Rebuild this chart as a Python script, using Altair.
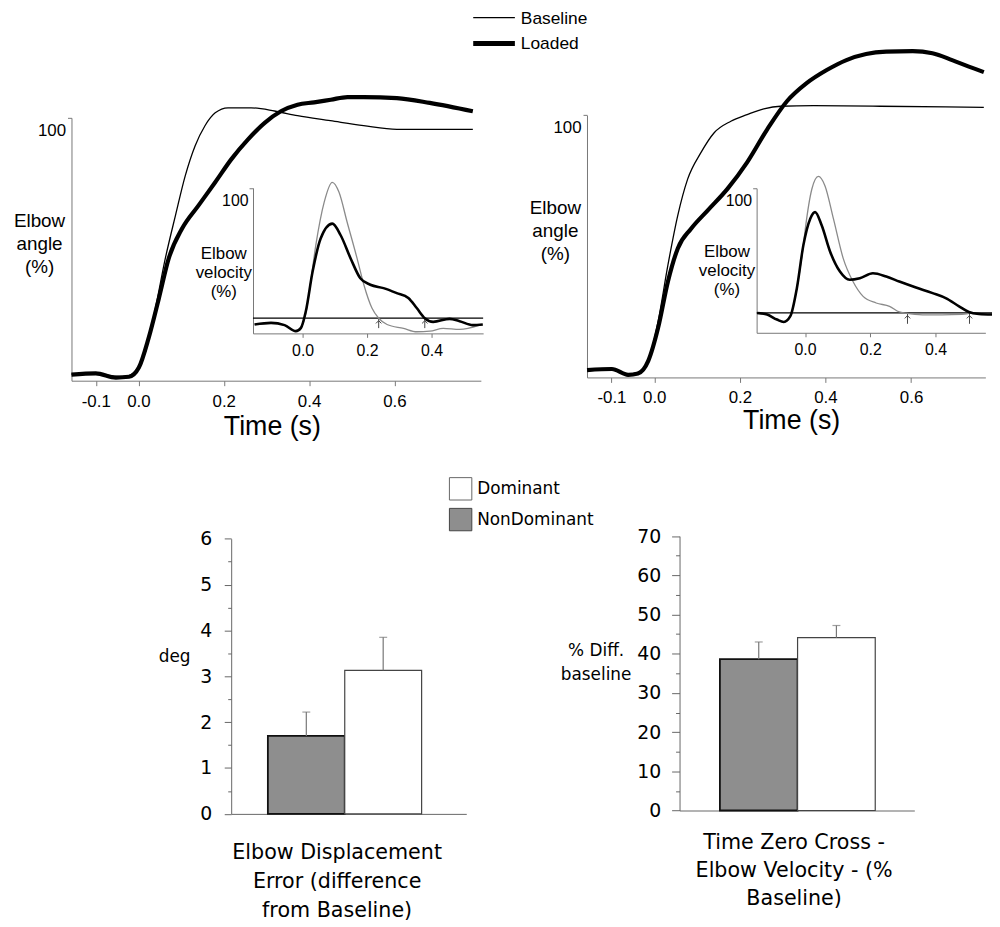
import altair as alt
import pandas as pd

# ---------------- data ----------------
series = ["Baseline", "Loaded"]
groups = ["NonDominant", "Dominant"]

main_ticks = [-0.1, 0.0, 0.2, 0.4, 0.6]
inset_ticks = [0.0, 0.2, 0.4]

# Top-left panel: elbow angle (%) vs time (s)
tl_base_t = [-0.157, -0.105, -0.038, -0.022, -0.0065, 0.017, 0.040, 0.063, 0.087, 0.110, 0.133,
             0.156, 0.180, 0.210, 0.264, 0.319, 0.373, 0.450, 0.528, 0.606, 0.784]
tl_base_v = [2.5, 2.8, 1.5, 1.9, 3.8, 11.3, 27.7, 46.5, 63.0, 78.1, 89.4,
             97.0, 101.9, 103.8, 103.8, 102.6, 100.8, 98.9, 97.0, 95.6, 95.6]
tl_load_t = [-0.157, -0.100, -0.053, -0.022, 0.001, 0.024, 0.048, 0.071, 0.102, 0.141, 0.180, 0.218,
             0.257, 0.296, 0.334, 0.373, 0.412, 0.451, 0.490, 0.528, 0.606, 0.683, 0.784]
tl_load_v = [2.3, 2.8, 1.2, 1.5, 5.0, 16.3, 31.4, 46.5, 57.8, 66.7, 75.5, 84.3,
             91.8, 98.1, 102.5, 105.0, 105.9, 106.9, 107.9, 107.9, 107.5, 105.7, 102.5]

# Top-right panel
tr_base_t = [-0.157, -0.105, -0.061, -0.038, -0.014, 0.009, 0.032, 0.055, 0.078, 0.109, 0.140,
             0.179, 0.217, 0.256, 0.295, 0.372, 0.527, 0.770]
tr_base_v = [3.2, 3.4, 1.3, 1.9, 6.3, 21.4, 42.9, 61.8, 75.6, 85.7, 93.3,
             97.7, 100.2, 102.4, 103.4, 103.6, 103.4, 103.0]
tr_load_t = [-0.157, -0.099, -0.061, -0.038, -0.014, 0.009, 0.032, 0.055, 0.086, 0.125, 0.171, 0.217,
             0.264, 0.310, 0.356, 0.403, 0.449, 0.495, 0.542, 0.604, 0.650, 0.696, 0.735, 0.770]
tr_load_v = [2.8, 3.2, 1.0, 1.5, 6.3, 18.9, 36.6, 49.2, 56.7, 63.7, 71.9, 82.0,
             94.6, 105.3, 112.2, 117.2, 121.0, 123.3, 124.2, 124.4, 123.6, 121.0, 118.5, 116.4]

# Top-left inset: elbow velocity (%)
tli_base_t = [-0.149, -0.098, -0.056, -0.021, -0.005, 0.010, 0.021, 0.041, 0.067, 0.092, 0.113, 0.138,
              0.169, 0.190, 0.215, 0.236, 0.262, 0.313, 0.354, 0.395, 0.436, 0.487, 0.549]
tli_base_v = [-4.8, -3.6, -5.3, -9.9, -7.4, 4.0, 20.6, 56.1, 89.1, 104.3, 96.7, 73.9,
              45.9, 25.7, 7.8, 0.0, -4.8, -7.8, -10.4, -9.9, -7.8, -8.6, -5.3]
tli_load_t = [-0.149, -0.098, -0.056, -0.021, -0.005, 0.010, 0.031, 0.056, 0.092, 0.118, 0.149, 0.179,
              0.210, 0.251, 0.292, 0.328, 0.354, 0.379, 0.405, 0.456, 0.487, 0.528, 0.559]
tli_load_v = [-4.8, -3.6, -5.3, -9.9, -7.4, 5.3, 35.8, 61.2, 72.6, 63.7, 45.9, 30.7,
              25.7, 23.1, 19.3, 15.5, 7.8, 0.0, -2.8, -0.5, -2.3, -5.3, -4.8]
tli_zero_span = [-0.154, 0.560]
tli_cross_t = [0.236, 0.379]

# Top-right inset
tri_base_t = [-0.147, -0.116, -0.086, -0.065, -0.045, -0.025, -0.005, 0.001, 0.021, 0.041, 0.061, 0.087,
              0.117, 0.147, 0.178, 0.218, 0.259, 0.289, 0.309, 0.360, 0.420, 0.480, 0.500]
tri_base_v = [0.0, -1.3, -5.3, -7.2, -2.6, 19.9, 54.4, 67.6, 99.4, 109.5, 102.1, 75.6,
              43.8, 25.2, 13.3, 8.0, 5.3, 0.8, -0.2, -1.5, -1.5, -1.2, -0.5]
tri_load_t = [-0.147, -0.116, -0.086, -0.065, -0.045, -0.025, -0.005, 0.016, 0.031, 0.051, 0.077, 0.107,
              0.137, 0.168, 0.208, 0.249, 0.289, 0.340, 0.391, 0.431, 0.472, 0.502, 0.533, 0.573]
tri_load_v = [0.0, -1.3, -5.3, -7.2, -2.6, 19.9, 54.4, 75.6, 80.9, 70.3, 49.1, 33.2,
              26.6, 27.8, 31.8, 29.2, 25.2, 20.4, 15.9, 11.9, 5.3, 0.8, -0.8, -1.3]
tri_zero_span = [-0.148, 0.573]
tri_cross_t = [0.314, 0.504]

# Bottom bar charts (mean and top of error bar)
disp_mean = [1.70, 3.13]
disp_upper = [2.22, 3.85]
zc_mean = [38.6, 44.1]
zc_upper = [43.0, 47.2]

# ---------------- layout ----------------
W, H = 992, 919
M = 8
TOP_FONT = "Liberation Sans"
BOT_FONT = "DejaVu Sans"
HYPHEN_LABEL = "replace(datum.label, '\u2212', '-')"


def X(p):
    return p - M


def Y(p):
    return p - M


def lines_frame(bt, bv, lt, lv):
    return pd.DataFrame({
        "t": list(bt) + list(lt),
        "v": list(bv) + list(lv),
        "series": [series[0]] * len(bt) + [series[1]] * len(lt),
    })


def main_panel(df, g):
    xs = alt.Scale(domain=[(g["x0"] - g["t0"]) / g["ppu"], (g["x1"] - g["t0"]) / g["ppu"]],
                   range=[X(g["x0"]), X(g["x1"])], nice=False, zero=False)
    ys = alt.Scale(domain=[0, 100], range=[Y(g["ybot"]), Y(g["ytop"])], nice=False, zero=False)
    return [alt.Chart(df).mark_line(interpolate="monotone", color="black").encode(
        x=alt.X("t:Q", scale=xs, axis=alt.Axis(
            orient="bottom", offset=Y(g["ybot"]) - H, values=main_ticks, format=".1f",
            labelExpr=HYPHEN_LABEL,
            tickSize=5, labelPadding=g["lpad"], labelFont=TOP_FONT, labelFontSize=17,
            labelFlush=False, labelOverlap=False, title="Time (s)", titleFont=TOP_FONT,
            titleFontSize=27, titleFontWeight="normal", titleX=X(g["xt_cx"]),
            titleY=g["xt_base"] - g["ybot"], titleAlign="center", titleBaseline="alphabetic")),
        y=alt.Y("v:Q", scale=ys, axis=alt.Axis(
            orient="left", offset=-X(g["x0"]), values=[100], tickSize=4, labelPadding=2,
            labelBaseline="middle", labelOffset=g["lab_off"], labelFont=TOP_FONT, labelFontSize=17,
            title=["Elbow", "angle", "(%)"], titleAngle=0, titleAlign="center",
            titleBaseline="alphabetic", titleX=g["yt_cx"] - g["x0"], titleY=Y(g["yt_base"]),
            titleFont=TOP_FONT, titleFontSize=19, titleFontWeight="normal", titleLineHeight=23)),
        strokeWidth=alt.StrokeWidth("series:N", scale=alt.Scale(domain=series, range=[1.3, 4.2]),
                                    legend=None),
    )]


def inset_panel(df, zero_span, cross_t, g):
    def xs():
        return alt.Scale(domain=[(g["x0"] - g["t0"]) / g["ppu"], (g["x1"] - g["t0"]) / g["ppu"]],
                         range=[X(g["x0"]), X(g["x1"])], nice=False, zero=False)
    ppv = (g["yzero"] - g["y100"]) / 100.0

    def ys():
        return alt.Scale(domain=[(g["yzero"] - g["ybot"]) / ppv, 100],
                         range=[Y(g["ybot"]), Y(g["y100"])], nice=False, zero=False)
    zero_df = pd.DataFrame({"t0": [zero_span[0]], "t1": [zero_span[1]], "v": [0.0]})
    arr_df = pd.DataFrame({"t": cross_t, "v0": [0.0] * len(cross_t),
                           "v1": [-g["arrow"]] * len(cross_t),
                           "vh": [-0.25 * g["arrow"]] * len(cross_t)})
    zero = alt.Chart(zero_df).mark_rule(color="black", strokeWidth=1.2).encode(
        x=alt.X("t0:Q", scale=xs(), axis=None), x2="t1:Q",
        y=alt.Y("v:Q", scale=ys(), axis=None))
    arrows = alt.Chart(arr_df).mark_rule(color="#444", strokeWidth=1).encode(
        x=alt.X("t:Q", scale=xs(), axis=None),
        y=alt.Y("v0:Q", scale=ys(), axis=None), y2="v1:Q")
    heads = alt.Chart(arr_df).mark_point(shape="M-1,1L0,0L1,1", filled=False, size=30,
                                         color="#444", strokeWidth=1, opacity=1).encode(
        x=alt.X("t:Q", scale=xs(), axis=None),
        y=alt.Y("vh:Q", scale=ys(), axis=None))
    lines = alt.Chart(df).mark_line(interpolate="monotone").encode(
        x=alt.X("t:Q", scale=xs(), axis=alt.Axis(
            orient="bottom", offset=Y(g["ybot"]) - H, values=inset_ticks, format=".1f",
            tickSize=4, labelPadding=5, labelFont=TOP_FONT, labelFontSize=16, labelFlush=False,
            labelOverlap=False, title=None)),
        y=alt.Y("v:Q", scale=ys(), axis=alt.Axis(
            orient="left", offset=-X(g["x0"]), values=[100], tickSize=4, labelPadding=1,
            labelBaseline="middle", labelOffset=12.5, labelFont=TOP_FONT, labelFontSize=16,
            title=["Elbow", "velocity", "(%)"], titleAngle=0, titleAlign="center",
            titleBaseline="alphabetic", titleX=g["yt_cx"] - g["x0"], titleY=Y(g["yt_base"]),
            titleFont=TOP_FONT, titleFontSize=17, titleFontWeight="normal", titleLineHeight=19)),
        color=alt.Color("series:N", scale=alt.Scale(domain=series, range=["#8a8a8a", "black"]),
                        legend=None),
        strokeWidth=alt.StrokeWidth("series:N", scale=alt.Scale(domain=series, range=[1.3, 2.6]),
                                    legend=None),
    )
    return [zero, arrows, heads, lines]


def bar_panel(mean, upper, g):
    df = pd.DataFrame({"group": groups, "mean": mean, "upper": upper})

    def xs():
        return alt.Scale(domain=groups, range=[X(g["ax"]), X(g["xend"])], paddingInner=0,
                         paddingOuter=g["pad"], align=g["align"])

    def ys():
        return alt.Scale(domain=[0, g["ymax"]], range=[Y(g["ybot"]), Y(g["ytop"])], nice=False)
    minor = g["minor"]
    major = g["major"]
    yvals = [minor * i for i in range(int(round(g["ymax"] / minor)) + 1)]
    bars = alt.Chart(df).mark_bar().encode(
        x=alt.X("group:N", scale=xs(), sort=groups, axis=alt.Axis(
            orient="bottom", offset=Y(g["ybot"]) - H, labels=False, ticks=False,
            domainColor="#666", title=g["cat"], titleFont=BOT_FONT, titleFontSize=20.8,
            titleFontWeight="normal", titleLineHeight=g["cat_lh"], titleX=X(g["cat_cx"]),
            titleY=g["cat_base"] - g["ybot"], titleAlign="center", titleBaseline="alphabetic")),
        y=alt.Y("mean:Q", scale=ys(), axis=alt.Axis(
            orient="left", offset=-X(g["ax"]), values=yvals, format=".0f",
            labelExpr=f"datum.value % {major} === 0 ? datum.label : ''",
            tickSize={"condition": {"test": f"datum.value % {major} !== 0", "value": g["tminor"]},
                      "value": g["tmajor"]},
            domainColor="#666", tickColor="#666",
            labelPadding=g["lpad"], labelFont=BOT_FONT, labelFontSize=19, labelOverlap=False,
            title=g["ytitle"], titleAngle=0, titleAlign="center", titleBaseline="alphabetic",
            titleX=g["yt_cx"] - g["ax"], titleY=Y(g["yt_base"]), titleFont=BOT_FONT,
            titleFontSize=17, titleFontWeight="normal", titleLineHeight=25)),
        fill=alt.Fill("group:N", scale=alt.Scale(domain=groups, range=["#8e8e8e", "white"]),
                      legend=None),
        stroke=alt.Stroke("group:N", scale=alt.Scale(domain=groups, range=["#111111", "#444444"]),
                          legend=None),
        strokeWidth=alt.StrokeWidth("group:N", scale=alt.Scale(domain=groups, range=[1.8, 1.2]),
                                    legend=None),
    )
    err = alt.Chart(df).mark_rule(color="#777", strokeWidth=1.2).encode(
        x=alt.X("group:N", scale=xs(), sort=groups, axis=None),
        y=alt.Y("mean:Q", scale=ys(), axis=None), y2="upper:Q")
    cap = alt.Chart(df).mark_tick(color="#777", size=8, thickness=1.2).encode(
        x=alt.X("group:N", scale=xs(), sort=groups, axis=None),
        y=alt.Y("upper:Q", scale=ys(), axis=None))
    return [bars, err, cap]


# --- panels ---
tl = main_panel(lines_frame(tl_base_t, tl_base_v, tl_load_t, tl_load_v),
                dict(x0=72, x1=484.7, t0=139.5, ppu=430, ybot=380, ytop=115, lab_off=13, lpad=8,
                     yt_cx=39.3, yt_base=225, xt_cx=274, xt_base=434.3))
tr = main_panel(lines_frame(tr_base_t, tr_base_v, tr_load_t, tr_load_v),
                dict(x0=591.7, x1=993.3, t0=659.5, ppu=431.5, ybot=376.7, ytop=112.3, lab_off=12.7,
                     lpad=7, yt_cx=559.3, yt_base=211.7, xt_cx=797.5, xt_base=428))
tli = inset_panel(lines_frame(tli_base_t, tli_base_v, tli_load_t, tli_load_v), tli_zero_span,
                  tli_cross_t,
                  dict(x0=255, x1=487, t0=305, ppu=325, ybot=332.3, yzero=317, y100=185.7,
                       yt_cx=225, yt_base=256.7, arrow=7.6))
tri = inset_panel(lines_frame(tri_base_t, tri_base_v, tri_load_t, tri_load_v), tri_zero_span,
                  tri_cross_t,
                  dict(x0=762.7, x1=993.3, t0=811.5, ppu=329, ybot=331.7, yzero=311.7, y100=186,
                       yt_cx=732.3, yt_base=255, arrow=8.7))

bl = bar_panel(disp_mean, disp_upper,
               dict(ax=233, xend=470, pad=0.529, align=0.451, ybot=816.7, ytop=539.3, ymax=6,
                    minor=0.5, major=1, tminor=3.5, tmajor=7, lpad=12.7,
                    cat=["Elbow Displacement", "Error (difference", "from Baseline)"],
                    cat_cx=339.3, cat_base=861.7, cat_lh=29,
                    ytitle="deg", yt_cx=175.5, yt_base=662.7))
br = bar_panel(zc_mean, zc_upper,
               dict(ax=685, xend=921.7, pad=0.5115, align=0.508, ybot=813.3, ytop=536.7, ymax=70,
                    minor=5, major=10, tminor=4, tmajor=8, lpad=11,
                    cat=["Time Zero Cross -", "Elbow Velocity - (%", "Baseline)"],
                    cat_cx=800, cat_base=851.5, cat_lh=28.5,
                    ytitle=["% Diff.", "baseline"], yt_cx=600.4, yt_base=656.7))

# --- legends ---
leg_top = pd.DataFrame({"series": series})
top_rules = alt.Chart(leg_top).mark_rule(color="black").encode(
    x=alt.value(X(477)), x2=alt.value(X(519)),
    y=alt.Y("series:N", scale=alt.Scale(type="point", domain=series, range=[Y(14), Y(40)], padding=0),
            axis=None),
    strokeWidth=alt.StrokeWidth("series:N", scale=alt.Scale(domain=series, range=[1.3, 5]),
                                legend=None))
top_text = alt.Chart(leg_top).mark_text(align="left", baseline="middle", font=TOP_FONT,
                                        fontSize=17.5, color="black").encode(
    x=alt.value(X(525)),
    y=alt.Y("series:N", scale=alt.Scale(type="point", domain=series, range=[Y(15), Y(41)], padding=0),
            axis=None),
    text="series:N")

leg_order = ["Dominant", "NonDominant"]
leg_bot = pd.DataFrame({"group": leg_order})
bot_boxes = alt.Chart(leg_bot).mark_point(shape="square", size=510, filled=True, opacity=1,
                                          strokeWidth=1).encode(
    x=alt.value(X(464.3)),
    y=alt.Y("group:N", scale=alt.Scale(type="point", domain=leg_order, range=[Y(489), Y(520)],
                                       padding=0), axis=None),
    fill=alt.Fill("group:N", scale=alt.Scale(domain=groups, range=["#8e8e8e", "white"]), legend=None),
    stroke=alt.Stroke("group:N", scale=alt.Scale(domain=groups, range=["#444444", "#666666"]),
                      legend=None))
bot_text = alt.Chart(leg_bot).mark_text(align="left", baseline="middle", font=BOT_FONT,
                                        fontSize=17, color="black").encode(
    x=alt.value(X(481)),
    y=alt.Y("group:N", scale=alt.Scale(type="point", domain=leg_order, range=[Y(489), Y(520)],
                                       padding=0), axis=None),
    text="group:N")

layers = tl + tr + tli + tri + bl + br + [top_rules, top_text, bot_boxes, bot_text]

chart = alt.layer(*layers).resolve_scale(
    x="independent", y="independent", color="independent", strokeWidth="independent",
    fill="independent", stroke="independent"
).properties(
    width=W, height=H, padding=0, autosize=alt.AutoSizeParams(type="none")
).configure_view(
    strokeWidth=0
).configure_axis(
    grid=False, domainColor="#777", tickColor="#777", labelColor="black", titleColor="black",
    domainWidth=1, tickWidth=1
)

chart.save("out.html", embed_options={"renderer": "svg", "actions": False})
